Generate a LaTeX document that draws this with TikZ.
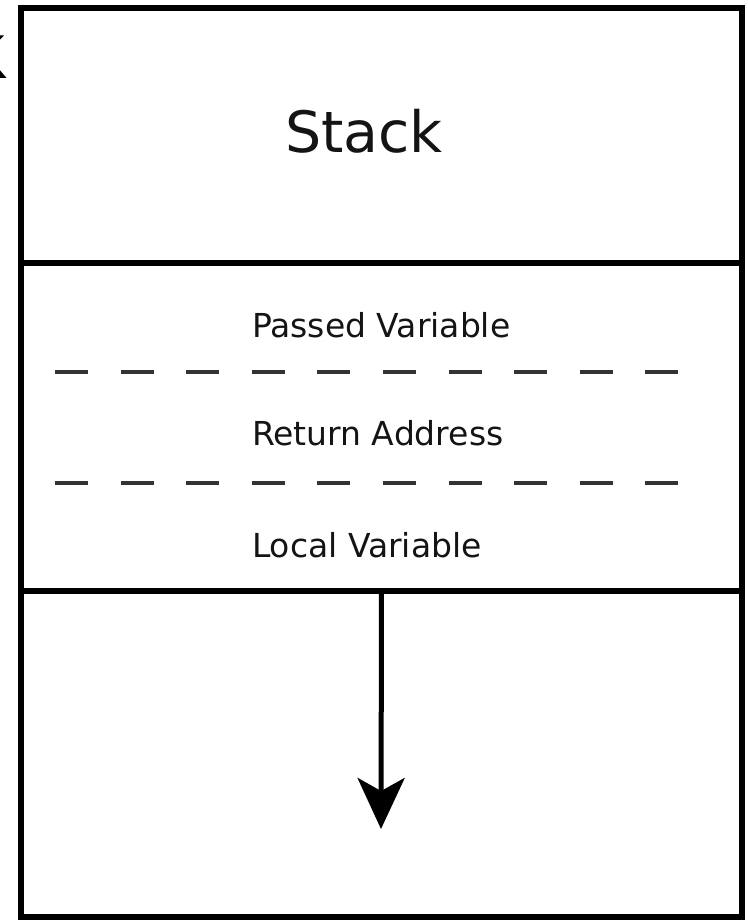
\documentclass[tikz,border=0pt]{standalone}
\usepackage{fontspec}
\setmainfont{DejaVu Sans}
\newfontfamily\kfont{Liberation Sans}
\usetikzlibrary{arrows.meta}
\definecolor{ink}{HTML}{141414}
\definecolor{dashgray}{HTML}{333333}
\begin{document}
\begin{tikzpicture}[x=1pt,y=-1pt,
  frame/.style={draw=black,line width=5.5pt,rectangle,inner sep=0pt,outer sep=0pt},
  label/.style={inner sep=0pt,outer sep=0pt,text=ink,font=\fontsize{33}{33}\selectfont,anchor=base west},
  sep/.style={draw=dashgray,line width=4pt,dash pattern=on 33pt off 32.6pt},
  flow/.style={draw=black,line width=5pt,-{Stealth[length=51pt,width=47pt,inset=13pt]}}]
\useasboundingbox (0,0) rectangle (747,921);
% partial glyph at the left edge
\begin{scope}
\clip (0,0) rectangle (12,921);
\node[inner sep=0pt,anchor=base east,font=\kfont\fontsize{62}{62}\selectfont] (cut) at (8,78) {K};
\end{scope}
% boxes
\node[frame,minimum width=721pt,minimum height=255pt,anchor=north west] (top) at (21,8) {};
\node[frame,minimum width=721pt,minimum height=328pt,anchor=north west] (mid) at (21,263) {};
\node[frame,minimum width=721pt,minimum height=326pt,anchor=north west] (bot) at (21,591) {};
% texts
\node[label,font=\fontsize{57}{57}\selectfont] (stack) at (285,152) {Stack};
\node[label] (passed) at (252,337) {Passed Variable};
\node[label] (ret) at (252,445) {Return Address};
\node[label] (local) at (252,557) {Local Variable};
% dashed separators
\coordinate (d1a) at (55,372); \coordinate (d1b) at (679,372);
\coordinate (d2a) at (55,483); \coordinate (d2b) at (679,483);
\draw[sep] (d1a) -- (d1b);
\draw[sep] (d2a) -- (d2b);
% arrow
\coordinate (tip) at (381,829);
\draw[flow] (bot.north) -- (tip);
\end{tikzpicture}
\end{document}
